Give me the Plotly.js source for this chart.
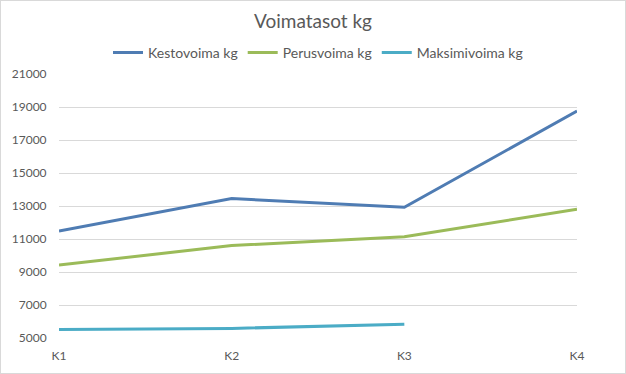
<!DOCTYPE html>
<html>
<head>
<meta charset="utf-8">
<script src="https://cdn.plot.ly/plotly-3.0.1.min.js"></script>
<style>
html,body{margin:0;padding:0;background:#fff;}
#chart{width:624px;height:372px;border:1px solid #d9d9d9;}
</style>
</head>
<body>
<div id="chart"></div>
<script>
const categories = ["K1", "K2", "K3", "K4"];
const kestovoima = [11480, 13450, 12920, 18760];
const perusvoima = [9420, 10600, 11130, 12800];
const maksimivoima = [5520, 5580, 5840];
const seriesNames = ["Kestovoima kg", "Perusvoima kg", "Maksimivoima kg"];
const yTicks = [5000, 7000, 9000, 11000, 13000, 15000, 17000, 19000, 21000];

const font = "Lato, Open Sans, sans-serif";
const traces = [
  {x: categories, y: kestovoima, name: seriesNames[0], mode: "lines", line: {color: "#4f7cb3", width: 3}},
  {x: categories, y: perusvoima, name: seriesNames[1], mode: "lines", line: {color: "#9bbb59", width: 3}},
  {x: categories.slice(0, maksimivoima.length), y: maksimivoima, name: seriesNames[2], mode: "lines", line: {color: "#4bacc6", width: 3}}
];

const layout = {
  width: 624, height: 372,
  margin: {l: 58, r: 48, t: 73, b: 35},
  paper_bgcolor: "#fff", plot_bgcolor: "#fff",
  title: {text: "Voimatasot kg", x: 0.5, xanchor: "center", y: 0.945, yanchor: "middle",
          font: {family: font, size: 19, color: "#595959"}},
  legend: {orientation: "h", x: 0.5, xanchor: "center", y: 1.08, yanchor: "middle",
           font: {family: font, size: 14, color: "#595959"}, itemwidth: 30, tracegroupgap: 0},
  showlegend: true,
  xaxis: {type: "category", range: [0, 3], showgrid: false, zeroline: false,
          showline: false, ticks: "outside", ticklen: 7, tickcolor: "rgba(0,0,0,0)",
          tickfont: {family: font, size: 12, color: "#595959"}},
  yaxis: {range: [5000, 21000], tickvals: yTicks, ticktext: yTicks.map(String),
          showgrid: true, gridcolor: "#d9d9d9", gridwidth: 1, zeroline: false, showline: false,
          ticks: "outside", ticklen: 9, tickcolor: "rgba(0,0,0,0)",
          tickfont: {family: font, size: 12, color: "#595959"}},
  hovermode: false
};

Plotly.newPlot("chart", traces, layout, {staticPlot: true, displayModeBar: false});
</script>
</body>
</html>
